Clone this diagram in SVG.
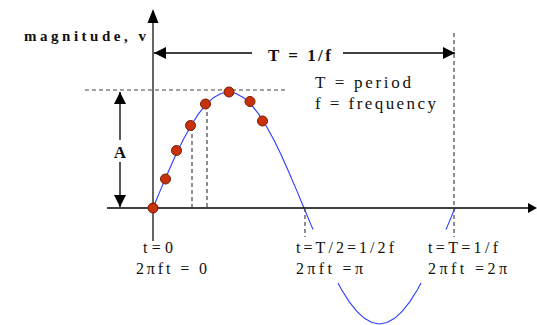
<svg xmlns="http://www.w3.org/2000/svg" width="537" height="325" viewBox="0 0 537 325">
<defs>
<style>
.axis{stroke:#333;stroke-width:1.5;fill:none}
.dash{stroke:#444;stroke-width:1.2;stroke-dasharray:4 3;fill:none}
.arr{stroke:#000;stroke-width:1.3;fill:none}
.wave{stroke:#2a3cff;stroke-width:1.1;fill:none}
.dot{fill:#c8320a;stroke:#7a1a00;stroke-width:1}
.bold{font-weight:bold}
</style>
<marker id="head" viewBox="0 0 10 10" refX="10" refY="5" markerWidth="12" markerHeight="12" markerUnits="userSpaceOnUse" orient="auto-start-reverse">
<path d="M0,0 L10,5 L0,10 Z" fill="#000"/>
</marker>
</defs>
<rect width="537" height="325" fill="#fff"/>
<g id="wave">
<path class="wave" d="M153,208 L160.55,189.86 L168.1,172.16 L175.65,155.34 L183.2,139.82 L190.75,125.98 L198.3,114.16 L205.85,104.64 L213.4,97.67 L220.95,93.43 L228.5,92 L236.05,93.43 L243.6,97.67 L251.15,104.64 L258.7,114.16 L266.25,125.98 L273.8,139.82 L281.35,155.34 L288.9,172.16 L296.45,189.86 L304,208 L311.55,226.14 L313,229.5"/>
<path class="wave" d="M338,283 L341.75,290.02 L349.3,301.84 L356.85,311.36 L364.4,318.33 L371.95,322.57 L379.5,324 L387.05,322.57 L394.6,318.33 L402.15,311.36 L409.7,301.84 L417.25,290.02 L421,283"/>
<path class="wave" d="M446,229.6 L447.45,226.14 L455,208"/>
</g>
<g id="connectors">
<line class="axis" x1="153" y1="22" x2="153" y2="241"/>
<path d="M153,9 L147.5,23 L158.5,23 Z" fill="#000"/>
<line class="axis" x1="107" y1="208" x2="530" y2="208" style="stroke:#000"/>
<path d="M528,203 L537,208 L528,213 Z" fill="#000"/>
<line class="dash" x1="85" y1="90" x2="287" y2="90"/>
<line class="dash" x1="454" y1="33" x2="454" y2="237"/>
<line class="dash" x1="192" y1="127" x2="192" y2="208"/>
<line class="dash" x1="207" y1="105" x2="207" y2="208"/>
<line class="dash" x1="305" y1="208" x2="305" y2="237"/>
<line class="arr" x1="120" y1="92" x2="120" y2="140" marker-start="url(#head)"/>
<line class="arr" x1="120" y1="162" x2="120" y2="207" marker-end="url(#head)"/>
<line class="arr" x1="154" y1="53" x2="252" y2="53" marker-start="url(#head)"/>
<line class="arr" x1="343" y1="53" x2="455" y2="53" marker-end="url(#head)"/>
</g>
<g id="samples">
<circle class="dot" cx="153" cy="208" r="5"/>
<circle class="dot" cx="165.5" cy="179" r="5"/>
<circle class="dot" cx="176.5" cy="150.5" r="5"/>
<circle class="dot" cx="190.5" cy="125.5" r="5"/>
<circle class="dot" cx="205.5" cy="104" r="5"/>
<circle class="dot" cx="229" cy="92" r="5"/>
<circle class="dot" cx="250" cy="101.5" r="5"/>
<circle class="dot" cx="262.5" cy="121" r="5"/>
</g>
<g font-family="Liberation Serif, DejaVu Serif, serif" font-size="16" fill="#111">
<g id="y-label"><text class="bold" x="24" y="41" font-size="15" textLength="122" lengthAdjust="spacing">magnitude, v</text></g>
<g id="period-label"><text class="bold" x="268" y="61" font-size="17" textLength="63" lengthAdjust="spacing">T = 1/f</text></g>
<g id="legend">
<text x="315" y="88" font-size="17" textLength="96" lengthAdjust="spacing">T = period</text>
<text x="315" y="109" font-size="17" textLength="121" lengthAdjust="spacing">f = frequency</text>
</g>
<g id="amplitude-label"><text class="bold" x="120" y="158" text-anchor="middle" font-size="17">A</text></g>
<g id="t0">
<text x="143" y="253" textLength="30" lengthAdjust="spacing">t=0</text>
<text x="136" y="274" textLength="71" lengthAdjust="spacing">2πft = 0</text>
</g>
<g id="thalf">
<text x="296" y="253" textLength="98" lengthAdjust="spacing">t=T/2=1/2f</text>
<text x="296" y="274" textLength="67" lengthAdjust="spacing">2πft =π</text>
</g>
<g id="tfull">
<text x="428" y="253" textLength="70" lengthAdjust="spacing">t=T=1/f</text>
<text x="428" y="274" textLength="79" lengthAdjust="spacing">2πft =2π</text>
</g>
</g>
</svg>
